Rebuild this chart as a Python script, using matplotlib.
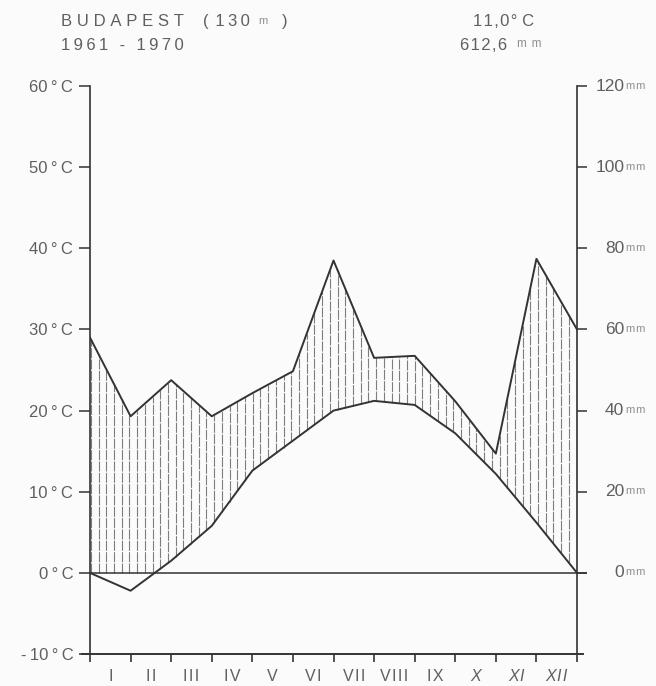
import matplotlib

matplotlib.use("Agg")

import matplotlib.pyplot as plt
import numpy as np

# Budapest 1961-1970, values at the month boundaries
months = ["I", "II", "III", "IV", "V", "VI", "VII", "VIII", "IX", "X", "XI", "XII"]
temp_c = [0.0, -2.2, 1.5, 5.8, 12.6, 16.3, 20.0, 21.2, 20.7, 17.2, 12.2, 6.2, 0.0]
precip_mm = [58.0, 38.6, 47.5, 38.6, 44.3, 49.7, 77.0, 53.0, 53.5, 42.3, 29.4, 77.4, 60.0]

temp_ticks = [-10, 0, 10, 20, 30, 40, 50, 60]
precip_ticks = [0, 20, 40, 60, 80, 100, 120]

station = "BUDAPEST"
altitude = "130"
period = "1961 - 1970"
mean_temp = "11,0"
total_precip = "612,6"

ink = "#333333"
txt = "#5f5f5f"
pale = "#8f8f8f"
bg = "#fbfbfb"
TS = "\u2009"  # thin space
HS = "\u200a"  # hair space


def spaced(s, sep=HS):
    return sep.join(s)


plt.rcParams["font.family"] = ["Liberation Sans", "DejaVu Sans"]
plt.rcParams["font.size"] = 11

fig = plt.figure(figsize=(6.56, 6.86), dpi=100, facecolor=bg)
ax = fig.add_axes([0.1372, 0.0466, 0.7424, 0.8280])
ax.set_facecolor(bg)
ax2 = ax.twinx()

x = np.arange(len(temp_c))
t = np.array(temp_c)
p = np.array(precip_mm) / 2.0  # 20 mm <-> 10 degC

# vertical hatching of the humid period
hx = np.arange(0.02, 12.0, 0.19)
ht = np.interp(hx, x, t)
hp = np.interp(hx, x, p)
wet = hp > ht
ax.vlines(hx[wet], np.maximum(ht[wet], 0), hp[wet], color="#7d7d7d", lw=0.8,
          linestyles=(0, (9, 1.2)))

ax.plot(x, p, color=ink, lw=1.4)
ax.plot(x, t, color=ink, lw=1.4)
ax.axhline(0, color=ink, lw=1.1, xmax=1.018, clip_on=False)
ax.plot([-0.2, 12.15], [-10, -10], color=ink, lw=1.4, clip_on=False)

ax.set_xlim(0, 12)
ax.set_ylim(-10, 60)
ax2.set_ylim(-20, 120)

for a in (ax, ax2):
    for s in a.spines:
        a.spines[s].set_visible(False)
ax.spines["left"].set_visible(True)
ax.spines["left"].set_color(ink)
ax.spines["left"].set_linewidth(1.2)
ax2.spines["right"].set_visible(True)
ax2.spines["right"].set_color(ink)
ax2.spines["right"].set_linewidth(1.2)

ax.set_xticks(range(13))
ax.set_xticklabels([])
ax.set_xticks(np.arange(12) + 0.5, minor=True)
ax.set_xticklabels([spaced(m) for m in months], minor=True, color=txt, fontsize=11.5)
ax.tick_params(axis="x", which="major", length=6, width=1.2, color=ink, direction="out")
ax.tick_params(axis="x", which="minor", length=0, pad=11)
ax.xaxis.set_ticks_position("bottom")
for lab in ax.get_xticklabels(minor=True)[9:]:
    lab.set_style("italic")

ax.set_yticks(temp_ticks)
ax.set_yticklabels([f"{v}{TS}°{TS}C" if v >= 0 else f"-{TS}{-v}{TS}°{TS}C" for v in temp_ticks],
                   color=txt, fontsize=12)
ax.tick_params(axis="y", length=8, width=1.1, color=ink, pad=4)

ax2.set_yticks(precip_ticks)
ax2.set_yticklabels([])
ax2.tick_params(axis="y", length=7, width=1.1, color=ink)
for v in precip_ticks:
    num = ax2.annotate(str(v), xy=(1, v), xycoords=("axes fraction", "data"), xytext=(34, 0),
                       textcoords="offset points", ha="right", va="center", color=txt, fontsize=12.5)
    ax2.annotate(spaced("mm"), xy=(1, 0.2), xycoords=num, xytext=(1.5, 0), textcoords="offset points",
                 ha="left", va="bottom", color=pale, fontsize=8)

# header
st = fig.text(0.093, 0.969, spaced(station, TS + HS), color=txt, fontsize=12, va="center")
alt = ax2.annotate("(" + TS + TS + spaced(altitude, TS), xy=(1, 0), xycoords=st, xytext=(14, 0),
                   textcoords="offset points", ha="left", va="bottom", color=txt, fontsize=12)
m1 = ax2.annotate("m", xy=(1, 0.2), xycoords=alt, xytext=(6, 0), textcoords="offset points",
                  ha="left", va="bottom", color=pale, fontsize=8)
ax2.annotate(")", xy=(1, 0), xycoords=(m1, st), xytext=(10, 0), textcoords="offset points",
             ha="left", va="bottom", color=txt, fontsize=12)
fig.text(0.093, 0.934, spaced(period, TS), color=txt, fontsize=12, va="center")
fig.text(0.721, 0.969, spaced(mean_temp) + f"{HS}°{TS}{HS}C", color=txt, fontsize=12, va="center")
tp = fig.text(0.701, 0.934, spaced(total_precip), color=txt, fontsize=12, va="center")
ax2.annotate(spaced("mm", TS + TS), xy=(1, 0.2), xycoords=tp, xytext=(7, 0), textcoords="offset points",
             ha="left", va="bottom", color=pale, fontsize=8.5)

fig.savefig("out.png", dpi=100, facecolor=bg)
